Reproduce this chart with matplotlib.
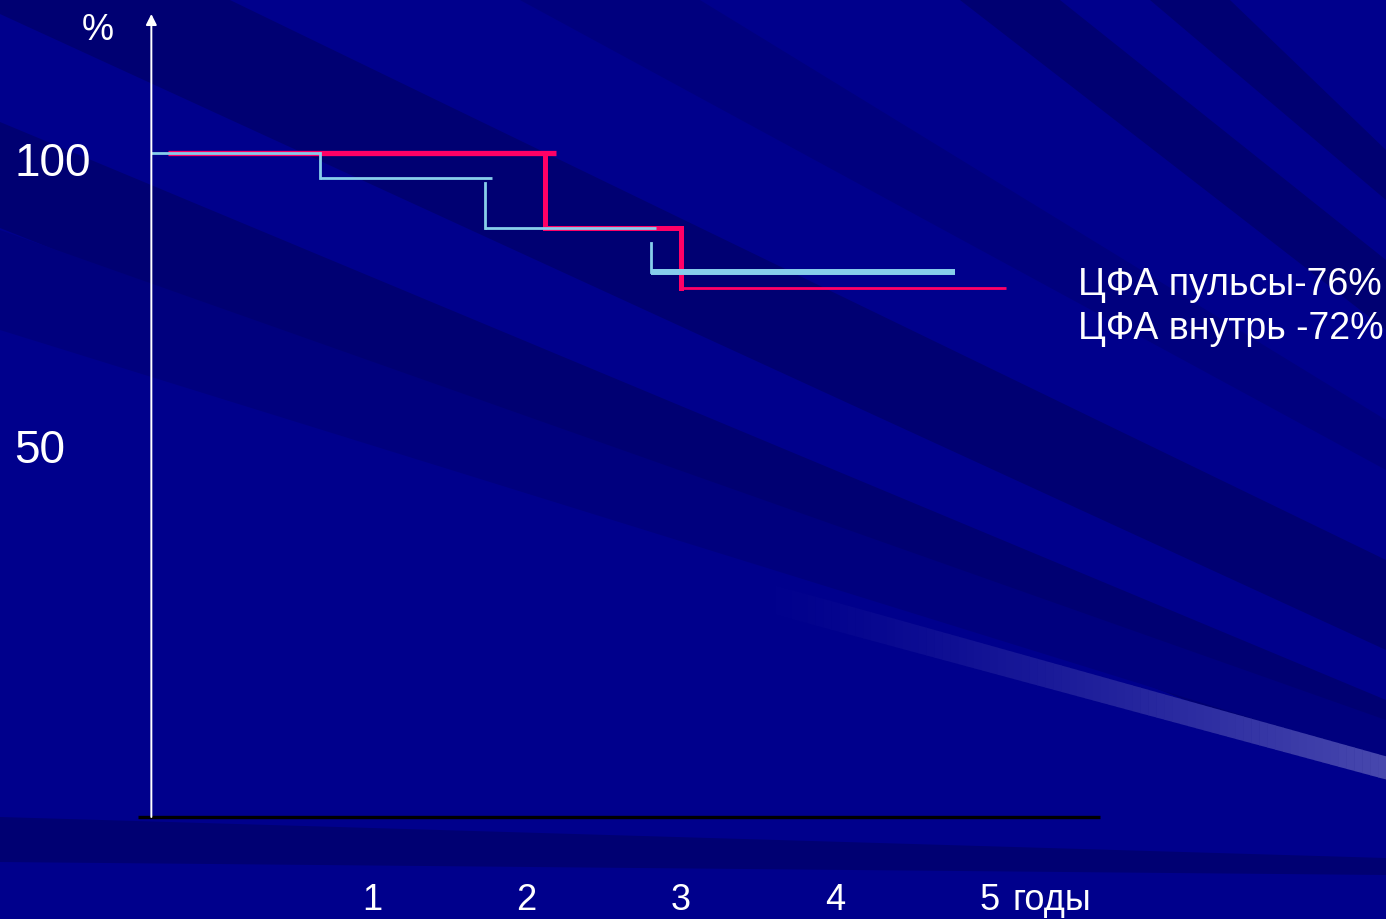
import matplotlib.pyplot as plt
from matplotlib.patches import Polygon
import numpy as np

# survival curves (years, %)
red_start = -0.32
red_drops = [2.12, 3.00]
red_end = 5.11
red_vals = [100, 87.2, 77.0]

blue_start = -0.43
blue_drops = [0.66, 1.73, 2.81]
blue_seg_end = [0.66, 1.78, 2.84, 4.78]
blue_vals = [100, 95.7, 87.2, 79.8]
blue_drop_top = [100, 94.9, 84.7]

year_ticks = [1, 2, 3, 4, 5]
y_labels = [(100, "100"), (50, "50")]
legend_lines = ["ЦФА пульсы-76%", "ЦФА внутрь -72%"]

W, H = 1386, 919
fig = plt.figure(figsize=(W / 100, H / 100), dpi=100)
fig.patch.set_facecolor("#00008c")

# background streaks (pixel coordinates)
bg = fig.add_axes([0, 0, 1, 1], zorder=0)
bg.set_xlim(0, W)
bg.set_ylim(H, 0)
bg.axis("off")
bg.set_facecolor("#00008c")
dark = "#000072"
mid = "#00007e"
bands = [
    ([(0, 0), (230, 0), (1386, 560), (1386, 650), (0, 14)], dark),
    ([(0, 122), (0, 228), (1386, 780), (1386, 700)], dark),
    ([(0, 230), (0, 330), (1386, 760), (1386, 720)], mid),
    ([(520, 0), (700, 0), (1386, 420), (1386, 470)], mid),
    ([(960, 0), (1060, 0), (1386, 260), (1386, 330)], dark),
    ([(1150, 0), (1230, 0), (1386, 150), (1386, 200)], dark),
    ([(0, 817), (0, 862), (1386, 875), (1386, 858)], dark),
]
for pts, c in bands:
    bg.add_patch(Polygon(pts, closed=True, color=c, lw=0))

# light streak fading in towards the right
base = np.array([0.0, 0.0, 0.55])
light = np.array([0.28, 0.28, 0.68])
xs = np.linspace(760, 1386, 80)
for i in range(len(xs) - 1):
    x0, x1 = xs[i], xs[i + 1]
    f = (i / (len(xs) - 2)) ** 1.3
    col = tuple(base + (light - base) * f)
    top0 = 650 + (x0 - 1006) * 0.28
    top1 = 650 + (x1 - 1006) * 0.28
    bot0 = 677 + (x0 - 1006) * 0.27
    bot1 = 677 + (x1 - 1006) * 0.27
    bg.add_patch(Polygon([(x0, top0), (x1 + 0.5, top1), (x1 + 0.5, bot1), (x0, bot0)],
                         closed=True, color=col, lw=0))

ax = fig.add_axes([0, 0, 1, 1], zorder=1)
ax.patch.set_alpha(0)
ax.set_xlim(-217.7 / 154.3, (W - 217.7) / 154.3)
ax.set_ylim((741 - H) / 5.88, 741 / 5.88)
ax.axis("off")

red = "#ff0066"
lblue = "#87ceeb"

# red curve
ax.plot([red_start, red_drops[0] + 0.07], [red_vals[0]] * 2, color=red, lw=3.8,
        solid_capstyle="butt")
ax.plot([red_drops[0]] * 2, [red_vals[0], red_vals[1]], color=red, lw=3.6)
ax.plot([red_drops[0], red_drops[1]], [red_vals[1]] * 2, color=red, lw=3.6,
        solid_capstyle="butt")
ax.plot([red_drops[1]] * 2, [red_vals[1], red_vals[2]], color=red, lw=3.6)
ax.plot([red_drops[1], red_end], [red_vals[2]] * 2, color=red, lw=2.0,
        solid_capstyle="butt")

# blue curve
starts = [blue_start] + blue_drops
for i, v in enumerate(blue_vals):
    lw = 4.3 if i == len(blue_vals) - 1 else 2.0
    ax.plot([starts[i], blue_seg_end[i]], [v, v], color=lblue, lw=lw,
            solid_capstyle="butt")
for i, xd in enumerate(blue_drops):
    ax.plot([xd, xd], [blue_drop_top[i], blue_vals[i + 1]], color=lblue, lw=2.0)

# axes
y0 = (741 - 817) / 5.88
ax.plot([-0.517, 5.72], [y0, y0], color="black", lw=2.4, solid_capstyle="butt")
ax.annotate("", xy=(-0.43, (741 - 14) / 5.88), xytext=(-0.43, y0),
            arrowprops=dict(arrowstyle="-|>", color="white", lw=1.4,
                            mutation_scale=16, shrinkA=0, shrinkB=0))

font = ["Liberation Sans", "DejaVu Sans"]

ax.text(-0.78, (741 - 31) / 5.88, "%", color="white", fontsize=26,
        ha="center", va="center", family=font)
for v, s in y_labels:
    yy = v - 1.8 if v == 100 else v - 0.6
    ax.text(-1.32, yy, s, color="white", fontsize=33, ha="left", va="center",
            family=font)

yt = (741 - 900) / 5.88
for t in year_ticks:
    ax.text(t, yt, str(t), color="white", fontsize=26, ha="center",
            va="center", family=font)
ax.text(5.15, yt, "годы", color="white", fontsize=26, ha="left",
        va="center", family=font)

for i, s in enumerate(legend_lines):
    ax.text(5.576, (741 - 285 - 44 * i) / 5.88, s, color="white", fontsize=27,
            ha="left", va="center", family=font)

fig.savefig("out.png", dpi=100, facecolor=fig.get_facecolor())
